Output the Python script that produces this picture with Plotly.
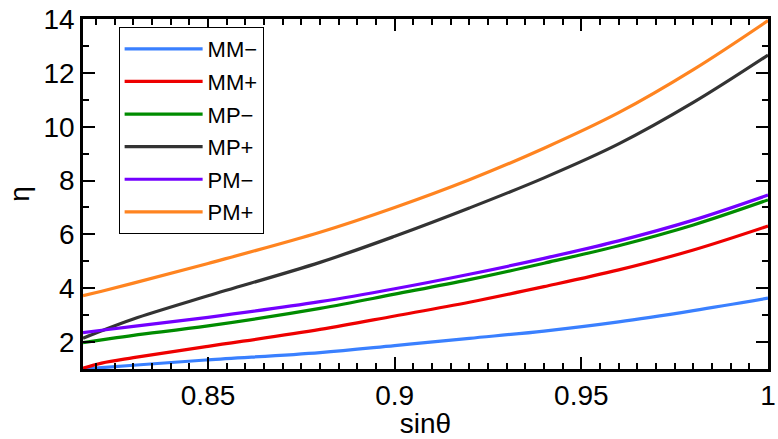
import plotly.graph_objects as go

sin_theta = [0.8165, 0.8215, 0.83, 0.85, 0.88, 0.90, 0.92, 0.94, 0.96, 0.98, 1.00]
mm_minus = [1.00, 1.05, 1.14, 1.34, 1.61, 1.87, 2.14, 2.41, 2.75, 3.17, 3.63]
mm_plus = [1.03, 1.22, 1.42, 1.84, 2.47, 2.97, 3.48, 4.06, 4.68, 5.42, 6.31]
mp_minus = [1.98, 2.08, 2.25, 2.60, 3.25, 3.78, 4.32, 4.93, 5.58, 6.35, 7.28]
mp_plus = [2.14, 2.42, 2.86, 3.72, 4.96, 5.93, 6.98, 8.10, 9.36, 10.90, 12.66]
pm_minus = [2.35, 2.44, 2.58, 2.92, 3.50, 3.98, 4.52, 5.11, 5.76, 6.53, 7.46]
pm_plus = [3.72, 3.89, 4.19, 4.92, 6.08, 7.00, 8.03, 9.20, 10.52, 12.12, 13.94]

x_tickvals = [0.85, 0.9, 0.95, 1.0]
x_ticktext = ["0.85", "0.9", "0.95", "1"]

names = ["MM\u2212", "MM+", "MP\u2212", "MP+", "PM\u2212", "PM+"]
series = [mm_minus, mm_plus, mp_minus, mp_plus, pm_minus, pm_plus]
colors = ["#3a80ff", "#ee0000", "#008c00", "#333333", "#7300ff", "#ff8420"]

FONT = "Liberation Sans, Arial, sans-serif"

fig = go.Figure()
for i, (n, ys, c) in enumerate(zip(names, series, colors)):
    fig.add_trace(go.Scatter(
        x=sin_theta, y=ys, mode="lines", name=n, legendgroup=f"g{i}",
        line=dict(color=c, width=3.2, shape="spline", smoothing=1.0),
    ))

axis_common = dict(
    showline=True, linecolor="black", linewidth=2.5, mirror="allticks",
    ticks="inside", ticklen=12, tickwidth=2, tickcolor="black",
    showgrid=False, zeroline=False, ticklabeloverflow="allow",
    tickfont=dict(family=FONT, size=28, color="black"),
)

fig.update_xaxes(
    range=[0.8165, 1.000001], tickmode="array", tickvals=x_tickvals, ticktext=x_ticktext,
    minor=dict(ticks="inside", ticklen=6, tickwidth=1.5, tickcolor="black",
               tickmode="linear", dtick=0.005, tick0=0),
    title=dict(text="sin\u03b8", font=dict(family=FONT, size=28, color="black"), standoff=2),
    **axis_common,
)
fig.update_yaxes(
    range=[1, 14], tick0=0, dtick=2,
    minor=dict(ticks="inside", ticklen=6, tickwidth=1.5, tickcolor="black", dtick=1, tick0=0),
    title=dict(text="\u03b7", font=dict(family=FONT, size=28, color="black"), standoff=6),
    **axis_common,
)

fig.update_layout(
    width=778, height=439,
    margin=dict(l=83, r=2, t=19, b=70),
    paper_bgcolor="white", plot_bgcolor="white",
    showlegend=True,
    legend=dict(
        x=0.052, y=0.977, xanchor="left", yanchor="top",
        bgcolor="white", bordercolor="black", borderwidth=1,
        font=dict(family=FONT, size=22, color="black"),
        tracegroupgap=1, itemwidth=78,
    ),
)

fig.write_html("out.html", config={"displayModeBar": False},
               post_script="document.body.style.margin='0';")
